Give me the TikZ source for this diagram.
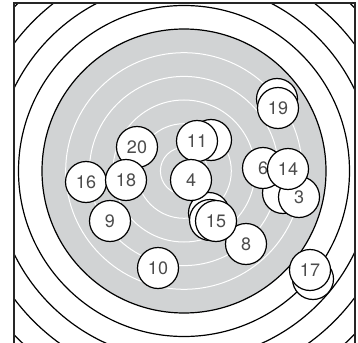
\documentclass[tikz,border=0pt]{standalone}
\usepackage{fontspec}
\setmainfont{TeX Gyre Heros}
\definecolor{targetgrey}{RGB}{209,211,212}
\begin{document}
\begin{tikzpicture}[x=1pt,y=-1pt,
  shot/.style={circle, draw=black, fill=white, line width=1.2pt, minimum size=41pt, inner sep=0pt, text=black!70, font=\fontsize{18}{18}\selectfont},
  ring/.style={draw=black, line width=1.2pt},
  wring/.style={draw=white, line width=1pt},
  frameline/.style={draw=black!85, line width=1.4pt}]
\useasboundingbox (0,0) rectangle (358,342);
\coordinate (c) at (184,171);
\begin{scope}
  \clip (14,3) rectangle (355,350);
  \foreach \r in {236,212.5,189,165.5} \draw[ring] (c) circle (\r pt);
\end{scope}
\fill[targetgrey] (c) circle (142pt);
\foreach \r in {23.6,47.3,71,94.6,118.3} \draw[wring] (c) circle (\r pt);
\draw[ring] (c) circle (142pt);
\draw[frameline] (14,350) -- (14,3) -- (355,3) -- (355,350);
% hidden shots
\node[shot] (s12) at (211,140) {};
\node[shot] (s13) at (277,99) {};
\node[shot] (s5) at (283,193) {};
\node[shot] (s1) at (209,213) {};
\node[shot] (s2) at (210,220) {};
\node[shot] (s7) at (313,279) {};
% visible shots
\node[shot] (s20) at (137,147) {20};
\node[shot] (s16) at (86,182) {16};
\node[shot] (s18) at (126,180) {18};
\node[shot] (s9) at (110,221) {9};
\node[shot] (s10) at (158,268) {10};
\node[shot] (s11) at (197,141) {11};
\node[shot] (s4) at (191,180) {4};
\node[shot] (s19) at (278,108) {19};
\node[shot] (s6) at (263,168) {6};
\node[shot] (s3) at (299,197) {3};
\node[shot] (s14) at (288,169) {14};
\node[shot] (s8) at (246,244) {8};
\node[shot] (s15) at (216,221) {15};
\node[shot] (s17) at (310,270) {17};
\end{tikzpicture}
\end{document}
